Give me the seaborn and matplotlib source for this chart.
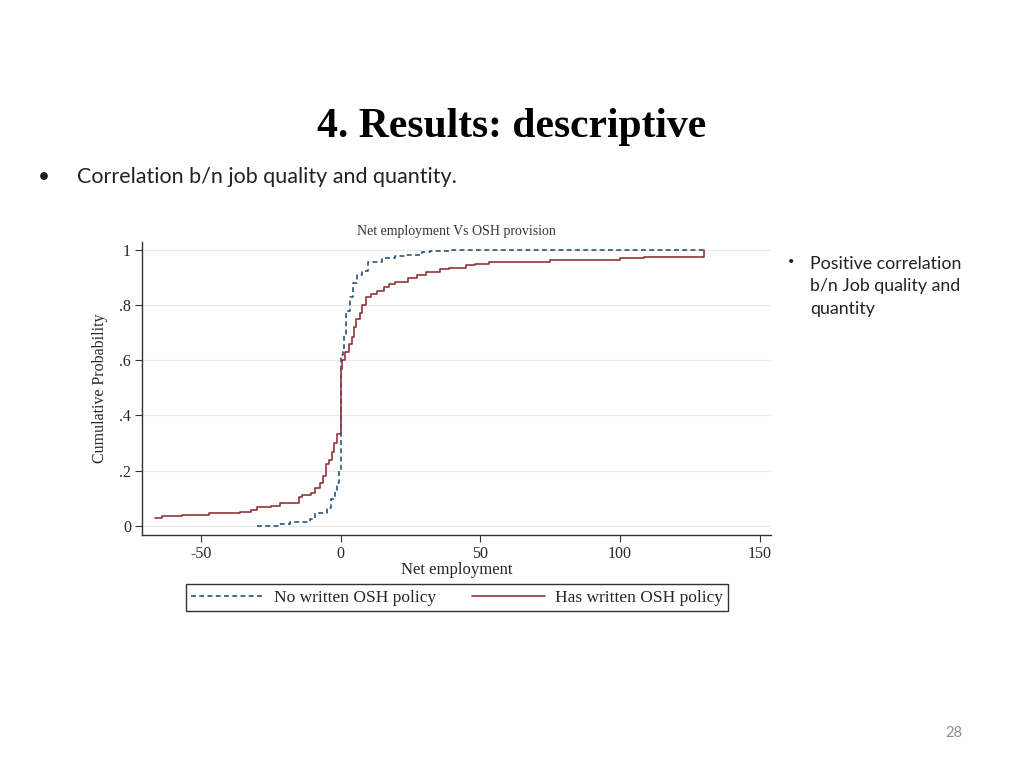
import numpy as np
import pandas as pd
import matplotlib
matplotlib.use('Agg')
import matplotlib.pyplot as plt
import seaborn as sns

no_policy_x = [-30, -22, -18, -11, -9, -5, -3.5, -1.9, -1.1, -0.6, 0, 0.8, 1.3, 2, 3.3, 4.5, 6, 7.6, 10,
               14.8, 19.6, 22.7, 29, 32, 38.7, 130]
no_policy_y = [0.0, 0.006, 0.014, 0.024, 0.048, 0.066, 0.097, 0.13, 0.157, 0.2, 0.62, 0.64, 0.69, 0.78,
               0.83, 0.88, 0.91, 0.925, 0.955, 0.972, 0.977, 0.983, 0.993, 0.997, 1.0, 1.0]

has_policy_x = [-66.3, -64, -56.8, -47, -41, -36, -32, -30, -25, -21.8, -15, -13.8, -10.7, -9, -7.5,
                -6.4, -5.2, -4.3, -3.2, -2.4, -1.1, 0, 0.5, 1.6, 2.9, 4, 4.9, 5.7, 6.8, 7.6, 9.2,
                10.8, 13.2, 15.6, 17.2, 19.6, 24.3, 27.5, 30.7, 35.5, 38.7, 45, 48.2, 53, 64, 75,
                95, 100, 108.7, 130, 130]
has_policy_y = [0.028, 0.034, 0.04, 0.045, 0.048, 0.052, 0.057, 0.07, 0.072, 0.082, 0.106, 0.112, 0.12,
                0.136, 0.157, 0.18, 0.223, 0.24, 0.266, 0.3, 0.332, 0.567, 0.6, 0.63, 0.66, 0.685,
                0.72, 0.75, 0.77, 0.8, 0.83, 0.84, 0.85, 0.865, 0.875, 0.885, 0.9, 0.91, 0.92, 0.93,
                0.935, 0.945, 0.95, 0.955, 0.958, 0.963, 0.965, 0.97, 0.975, 0.978, 1.0]

x_ticks = [-50, 0, 50, 100, 150]
y_ticks = [0, 0.2, 0.4, 0.6, 0.8, 1]
y_tick_labels = ['0', '.2', '.4', '.6', '.8', '1']

sns.set_theme(style='white')
plt.rcParams['font.family'] = ['Liberation Serif', 'DejaVu Serif']

fig = plt.figure(figsize=(10.24, 7.68), dpi=100)
ax = fig.add_axes([0.1387, 0.3034, 0.6143, 0.3816])

df_no = pd.DataFrame({'x': no_policy_x, 'y': no_policy_y})
df_has = pd.DataFrame({'x': has_policy_x, 'y': has_policy_y})

sns.lineplot(data=df_no, x='x', y='y', ax=ax, estimator=None, sort=False, drawstyle='steps-post',
             color='#1a476f', linewidth=1.1, linestyle=(0, (3.2, 2.2)), label='No written OSH policy')
sns.lineplot(data=df_has, x='x', y='y', ax=ax, estimator=None, sort=False, drawstyle='steps-post',
             color='#90353b', linewidth=1.2, label='Has written OSH policy')

ax.set_xlim(-71, 154)
ax.set_ylim(-0.033, 1.029)
ax.set_xticks(x_ticks)
ax.set_xticklabels([str(t) for t in x_ticks])
ax.set_yticks(y_ticks)
ax.set_yticklabels(y_tick_labels)
ax.grid(axis='y', color='#eaeaea', linewidth=0.9)
ax.grid(axis='x', visible=False)
for s in ['top', 'right']:
    ax.spines[s].set_visible(False)
for s in ['left', 'bottom']:
    ax.spines[s].set_color('#333333')
    ax.spines[s].set_linewidth(1.0)
ax.tick_params(axis='both', which='major', direction='out', length=5, width=0.8, color='#333333',
               labelsize=11.5, pad=3, bottom=True, left=True)
ax.set_xlabel('Net employment', fontsize=12, labelpad=0)
ax.set_ylabel('Cumulative Probability', fontsize=11.5, labelpad=8)
ax.set_title('Net employment Vs OSH provision', fontsize=10, pad=5, color='#333333')

leg = ax.legend(loc='center', bbox_to_anchor=(457 / 1024, 1 - 597.5 / 768), bbox_transform=fig.transFigure,
                ncol=2, frameon=True, fontsize=12.5, handlelength=4.2, columnspacing=2.1,
                handletextpad=0.55, borderpad=0.3, fancybox=False)
leg.get_frame().set_edgecolor('black')
leg.get_frame().set_linewidth(1.0)

# Slide texts
fig.text(0.5, 0.834, '4. Results: descriptive', ha='center', va='center', fontsize=30, fontweight='bold',
         color='black', family=['Liberation Serif'])
fig.text(0.037, 0.769, '\u2022', ha='left', va='center', fontsize=15, color='#222222',
         family=['Lato', 'DejaVu Sans'])
fig.text(0.075, 0.769, 'Correlation b/n job quality and quantity.', ha='left', va='center', fontsize=15.5,
         color='#222222', family=['Lato', 'DejaVu Sans'])
fig.text(0.769, 0.659, '\u2022', ha='left', va='center', fontsize=8, color='#222222',
         family=['Lato', 'DejaVu Sans'])
fig.text(0.791, 0.667, 'Positive correlation\nb/n Job quality and\nquantity', ha='left', va='top',
         fontsize=12.8, linespacing=1.5, color='#222222', family=['Lato', 'DejaVu Sans'])
fig.text(0.931, 0.045, '28', ha='center', va='center', fontsize=10.5, color='#8c8c8c',
         family=['Lato', 'DejaVu Sans'])

fig.savefig('out.png', dpi=100)
